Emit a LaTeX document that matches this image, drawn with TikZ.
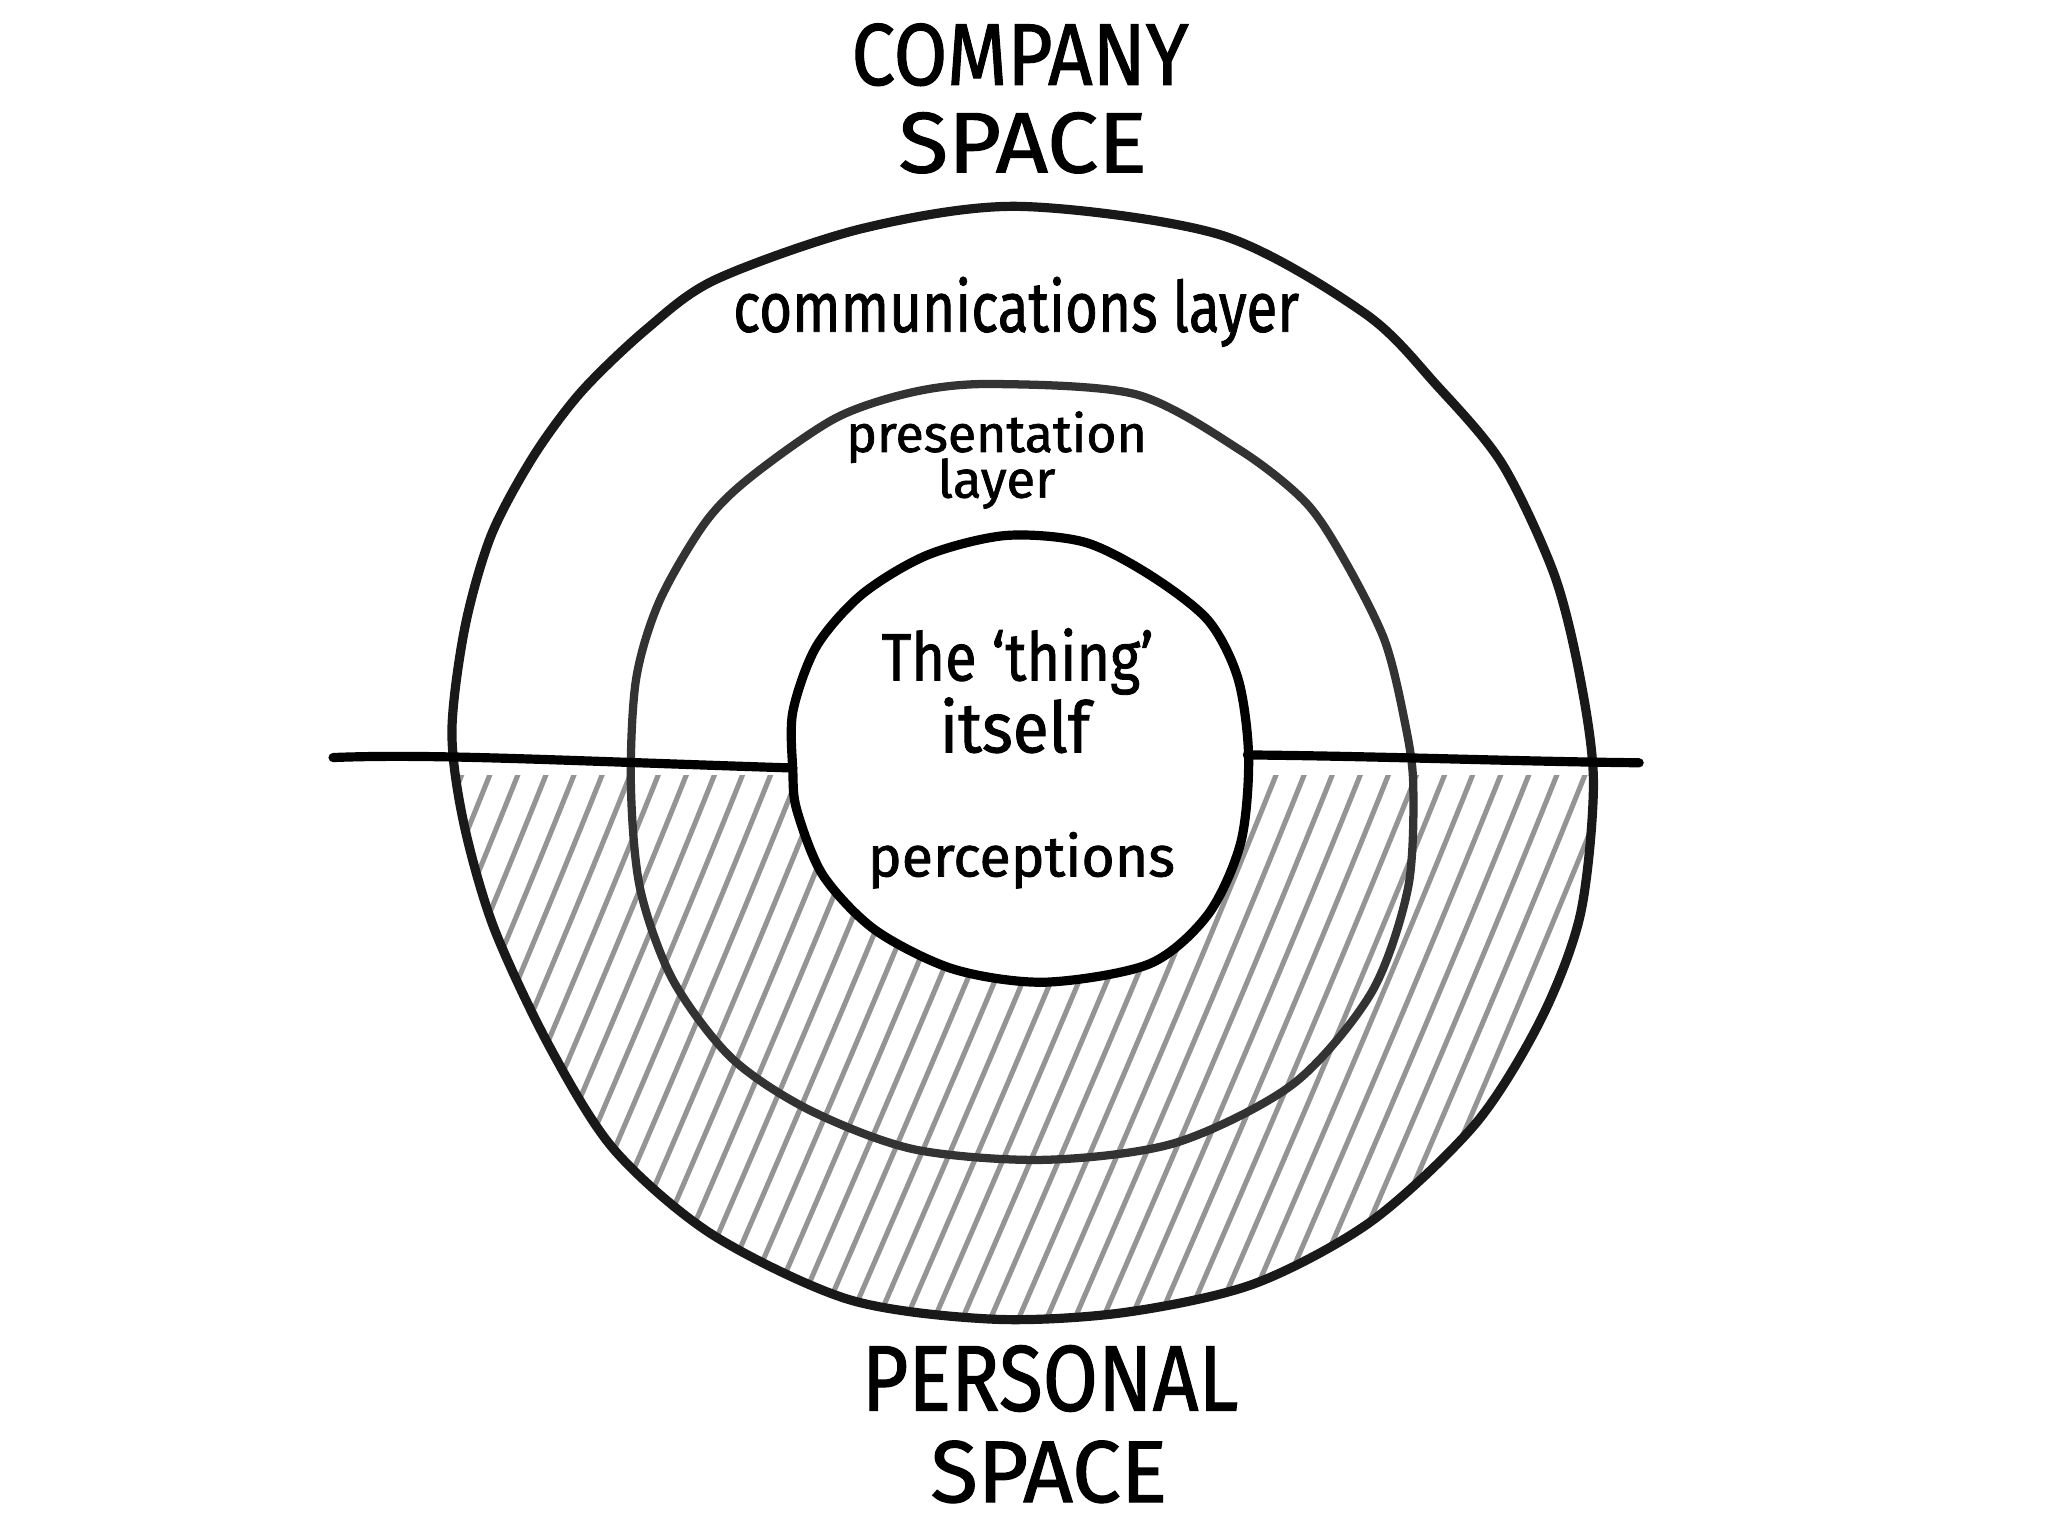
\documentclass[tikz,border=0pt]{standalone}
\usepackage{fontspec}
\setmainfont{Fira Sans}[FakeBold=1.3]
\usepackage{graphicx}
\begin{document}
\begin{tikzpicture}[x=0.01cm,y=-0.01cm,
  ring/.style={line width=2pt, draw=black!90, line join=round},
  midring/.style={line width=1.8pt, draw=black!80, line join=round},
  hatchline/.style={line width=1.1pt, draw=black!42, line cap=round},
  divider/.style={line width=2pt, draw=black, line cap=round},
  lbl/.style={anchor=base, inner sep=0pt, text=black}]
\useasboundingbox[fill=white] (0,0) rectangle (1568,1176);

% hatching in the lower half
\begin{scope}
  \clip plot[smooth cycle, tension=0.5] coordinates {(780,158) (935,180) (1045,240) (1100,295) (1150,355) (1190,440) (1210,520) (1220,600) (1210,700) (1180,780) (1130,860) (1050,935) (960,983) (860,1005) (760,1010) (650,995) (545,945) (470,880) (420,800) (378,710) (355,630) (346,560) (356,480) (376,410) (408,350) (445,300) (495,252) (548,214) (660,175)};
  \clip (300,594) rectangle (1300,1100);
  \foreach \i in {0,...,44} {
    \pgfmathsetmacro\tx{354+\i*21.5}
    \draw[hatchline] (\tx,592) .. controls (\tx-55,730) and (\tx-120,880) .. (\tx-185,1030);
  }
\end{scope}

% inner white
\fill[white] plot[smooth cycle, tension=0.5] coordinates {(607,590) (607,545) (625,495) (660,455) (710,425) (770,410) (830,415) (880,440) (925,475) (948,520) (956,580) (950,645) (925,700) (880,738) (800,752) (730,742) (670,712) (630,670) (610,620)};

% outer ring
\draw[ring] plot[smooth cycle, tension=0.5] coordinates {(780,158) (935,180) (1045,240) (1100,295) (1150,355) (1190,440) (1210,520) (1220,600) (1210,700) (1180,780) (1130,860) (1050,935) (960,983) (860,1005) (760,1010) (650,995) (545,945) (470,880) (420,800) (378,710) (355,630) (346,560) (356,480) (376,410) (408,350) (445,300) (495,252) (548,214) (660,175)};

% middle ring
\draw[midring] plot[smooth cycle, tension=0.5] coordinates {(760,294) (870,302) (950,345) (1000,385) (1030,430) (1060,490) (1075,550) (1082,600) (1078,680) (1050,760) (990,830) (900,875) (800,888) (700,880) (620,850) (560,810) (515,750) (490,680) (483,600) (487,520) (505,460) (540,400) (575,365) (640,320) (700,300)};

% inner ring
\draw[ring, draw=black] plot[smooth cycle, tension=0.5] coordinates {(607,590) (607,545) (625,495) (660,455) (710,425) (770,410) (830,415) (880,440) (925,475) (948,520) (956,580) (950,645) (925,700) (880,738) (800,752) (730,742) (670,712) (630,670) (610,620)};

% horizontal divider
\coordinate (hl0) at (255,580);
\coordinate (hl1) at (607,588);
\coordinate (hr0) at (955,578);
\coordinate (hr1) at (1255,584);
\draw[divider] (hl0) .. controls (330,577) and (420,582) .. (hl1);
\draw[divider] (hr0) .. controls (1060,579) and (1160,583) .. (hr1);

% labels
\node[lbl] (company) at (781,65) {\resizebox{2.58cm}{0.47cm}{COMPANY}};
\node[lbl] (space1) at (783,132) {\resizebox{1.9cm}{0.46cm}{SPACE}};
\node[lbl] (comm) at (778,254) {\resizebox{4.33cm}{0.42cm}{communications layer}};
\node[lbl] (pres) at (763,346) {\resizebox{2.3cm}{0.31cm}{presentation}};
\node[lbl] (layer) at (763,381) {\resizebox{0.9cm}{0.3cm}{layer}};
\node[lbl] (thing) at (779,521) {\resizebox{2.08cm}{0.4cm}{The ‘thing’}};
\node[lbl] (itself) at (777,576) {\resizebox{1.15cm}{0.42cm}{itself}};
\node[lbl] (perc) at (782,671) {\resizebox{2.35cm}{0.34cm}{perceptions}};
\node[lbl] (personal) at (804,1080) {\resizebox{2.88cm}{0.5cm}{PERSONAL}};
\node[lbl] (space2) at (803,1150) {\resizebox{1.81cm}{0.47cm}{SPACE}};
\end{tikzpicture}
\end{document}
